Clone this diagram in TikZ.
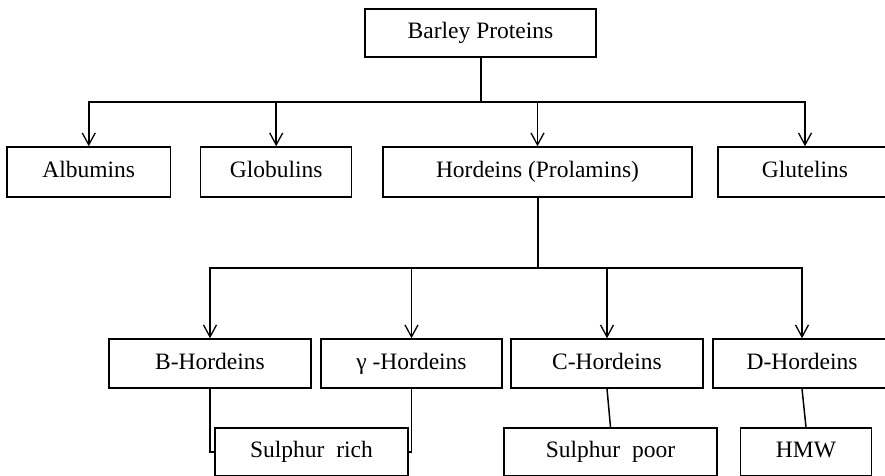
\documentclass[tikz,border=0pt]{standalone}
\usepackage{fontspec}
\setmainfont{Liberation Serif}
\usetikzlibrary{arrows.meta}
\tikzset{
  box/.style={draw=black, line width=1.5pt, inner sep=0pt, minimum height=49pt,
    font=\fontsize{23.5}{28}\selectfont, text=black, text height=16pt, text depth=5pt},
  link/.style={draw=black, line width=1.5pt},
  stem/.style={draw=black, line width=2pt},
  arr/.style={link, -{Straight Barb[length=12pt,width=13pt,line width=1.3pt]}}
}
\begin{document}
\begin{tikzpicture}[x=1pt,y=-1pt]
\useasboundingbox (0,0) rectangle (885,475);
\clip (0,0) rectangle (885,475);
% level 1
\node[box, minimum width=231pt, minimum height=48pt] (bp) at (480.5,33) {Barley Proteins};
% level 2
\node[box, minimum width=163.5pt, minimum height=50pt] (alb) at (88.75,172) {Albumins};
\node[box, minimum width=151pt, minimum height=50pt] (glob) at (276.2,172) {Globulins};
\node[box, minimum width=309pt, minimum height=50pt] (hord) at (537.5,172) {Hordeins (Prolamins)};
\node[box, minimum width=174pt, minimum height=50pt] (glut) at (805,172) {Glutelins};
% level 3
\node[box, minimum width=202pt] (bh) at (210,363.5) {B-Hordeins};
\node[box, minimum width=181pt] (gh) at (411.5,363.5) {γ -Hordeins};
\node[box, minimum width=192pt] (ch) at (607,363.5) {C-Hordeins};
\node[box, minimum width=178pt] (dh) at (802,363.5) {D-Hordeins};
% level 4
\node[box, minimum width=193pt, minimum height=48pt] (sr) at (311.5,452) {Sulphur\enspace rich};
\node[box, minimum width=213pt, minimum height=48pt] (sp) at (610.5,452) {Sulphur\enspace poor};
\node[box, minimum width=131pt, minimum height=48pt] (hmw) at (806,452) {HMW};
% hubs
\coordinate (h1) at (480.5,102);
\coordinate (h2) at (537.5,268);
% connectors level 1 -> 2
\draw[stem] (bp.south) -- (h1);
\draw[arr] (h1) -| (alb.north);
\draw[arr] (h1) -| (glob.north);
\draw[arr] (h1) -| (hord.north);
\draw[arr] (h1) -| (glut.north);
% connectors level 2 -> 3
\draw[stem] (hord.south) -- (h2);
\draw[arr] (h2) -| (bh.north);
\draw[arr] (h2) -| (gh.north);
\draw[arr] (h2) -| (ch.north);
\draw[arr] (h2) -| (dh.north);
% connectors level 3 -> 4
\draw[link] (bh.south) |- (sr.west);
\draw[link] (gh.south) |- (sr.east);
\draw[link] (ch.south) -- (sp.north);
\draw[link] (dh.south) -- (hmw.north);
\end{tikzpicture}
\end{document}
